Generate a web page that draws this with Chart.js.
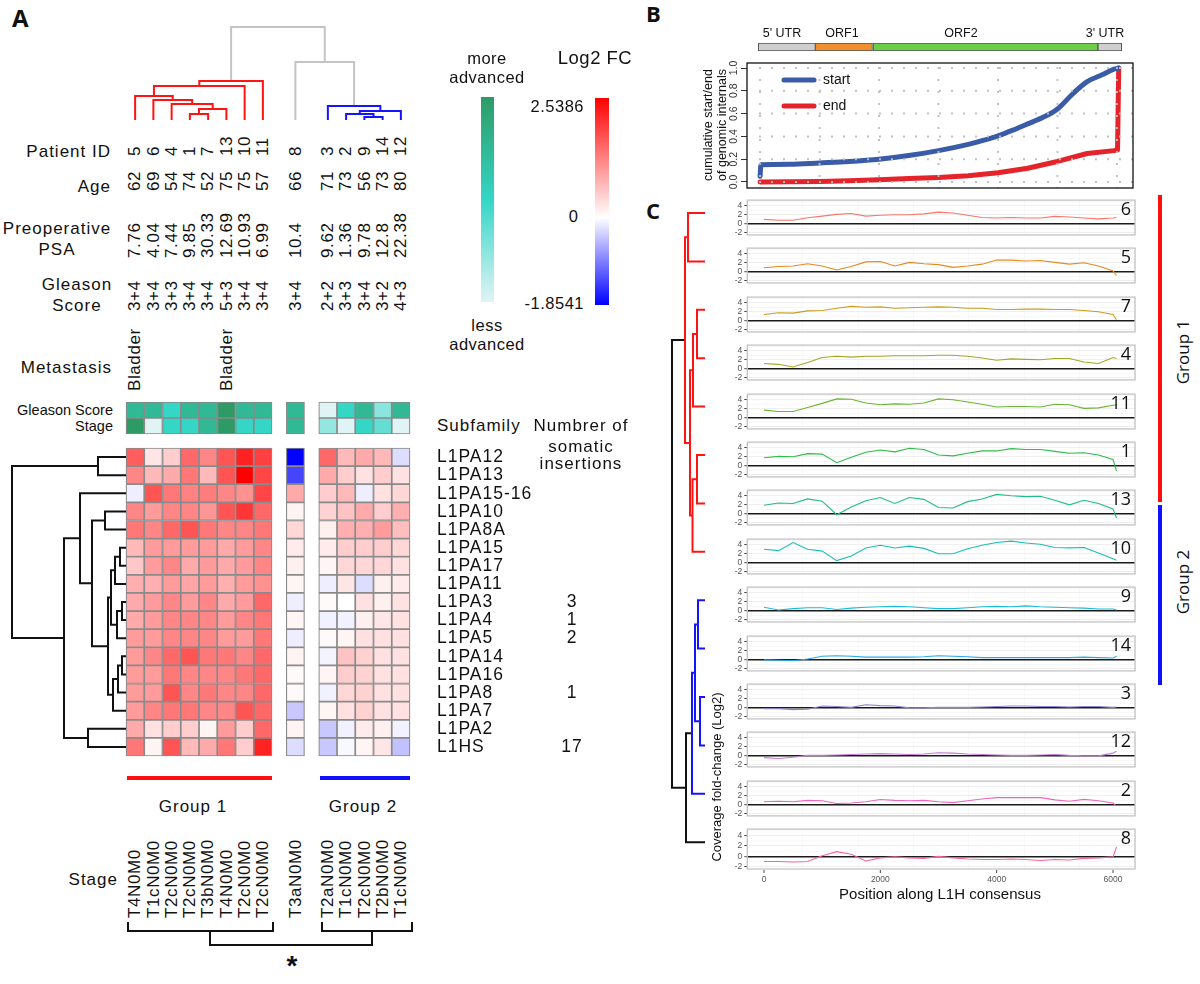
<!DOCTYPE html>
<html>
<head>
<meta charset="utf-8">
<script src="https://cdn.jsdelivr.net/npm/chart.js@4.4.1/dist/chart.umd.min.js"></script>
<style>
  body { margin: 0; background: #fff; width: 1200px; height: 984px; position: relative; overflow: hidden;
         font-family: "Liberation Sans", Arial, sans-serif; color: #111; }
  canvas { position: absolute; }
  .t { position: absolute; white-space: nowrap; }
  .rot { position: absolute; white-space: nowrap; transform-origin: 0 0; transform: rotate(-90deg); }
  .ln { position: absolute; }
</style>
</head>
<body>
<script>
// ---------- Panel A data ----------
const patientIds = ['5', '6', '4', '1', '7', '13', '10', '11', '8', '3', '2', '9', '14', '12'];
const ages = ['62', '69', '54', '74', '52', '75', '75', '57', '66', '71', '73', '56', '73', '80'];
const psa = ['7.76', '4.04', '7.44', '9.85', '30.33', '12.69', '10.93', '6.99', '10.4', '9.62', '1.36', '9.78', '12.8', '22.38'];
const gleason = ['3+4', '3+4', '3+3', '3+4', '3+4', '5+3', '3+4', '3+4', '3+4', '2+2', '3+3', '3+4', '3+2', '4+3'];
const metastasis = ['Bladder', '', '', '', '', 'Bladder', '', '', '', '', '', '', '', ''];
const stages = ['T4N0M0', 'T1cN0M0', 'T2cN0M0', 'T2cN0M0', 'T3bN0M0', 'T4N0M0', 'T2cN0M0', 'T2cN0M0',
                'T3aN0M0', 'T2aN0M0', 'T1cN0M0', 'T2cN0M0', 'T2bN0M0', 'T1cN0M0'];
const stageLevel = { T1c: 0, T2a: 0.22, T2b: 0.36, T2c: 0.5, T3a: 0.75, T3b: 0.75, T4: 1 };

const subfamilies = ['L1PA12', 'L1PA13', 'L1PA15-16', 'L1PA10', 'L1PA8A', 'L1PA15', 'L1PA17', 'L1PA11', 'L1PA3',
                     'L1PA4', 'L1PA5', 'L1PA14', 'L1PA16', 'L1PA8', 'L1PA7', 'L1PA2', 'L1HS'];
const insertions = ['', '', '', '', '', '', '', '', '3', '1', '2', '', '', '1', '', '', '17'];

// log2 fold change, one row per subfamily, columns in patient order above
const log2fc = [
  [1.6, 0.25, 0.5, 1.5, 1.2, 1.7, 2.2, 1.9,   -1.85,  1.5, 0.7, 0.85, 0.7, -0.25],
  [1.2, 0.7, 0.85, 1.35, 0.7, 1.7, 2.54, 1.85, -1.35,  0.85, 0.5, 0.3, 0.5, 0.3],
  [-0.12, 1.7, 1.35, 1.25, 1.3, 1.2, 1.1, 1.85, 0.85,  0.5, 0.7, -0.12, 0.3, 0.4],
  [1.2, 1.0, 1.2, 1.2, 1.05, 1.7, 2.0, 1.5,    0.12,   0.45, 0.6, 0.85, 0.5, 0.8],
  [1.35, 1.2, 1.5, 1.7, 1.35, 1.2, 1.2, 1.35,  0.4,    0.15, 0.8, 0.8, 1.0, 0.65],
  [0.7, 1.0, 1.0, 1.0, 1.0, 0.85, 1.0, 1.2,    0.2,    0.2, 0.5, 0.5, 0.5, 0.4],
  [0.55, 1.0, 1.2, 0.85, 1.0, 0.85, 1.0, 1.2,  0.15,   0.1, 0.4, 0.4, 0.4, 0.3],
  [0.8, 0.8, 1.0, 0.9, 1.0, 0.8, 1.0, 1.1,     0.1,   -0.12, 0.25, -0.25, 0.15, 0.2],
  [0.85, 1.0, 1.2, 1.0, 1.2, 0.85, 1.0, 1.5,  -0.12,   0.05, 0.0, 0.3, 0.15, 0.3],
  [0.85, 1.0, 1.2, 1.2, 1.2, 1.0, 1.2, 1.35,   0.1,   -0.1, -0.1, 0.15, 0.25, 0.3],
  [1.0, 1.0, 1.2, 1.2, 1.2, 1.0, 1.0, 1.35,   -0.12,   0.05, 0.1, 0.3, 0.3, 0.3],
  [1.0, 1.2, 1.5, 1.7, 1.35, 1.35, 1.2, 1.5,   0.12,  -0.08, 0.6, 0.45, 0.3, 0.3],
  [1.0, 1.0, 1.35, 1.2, 1.2, 1.2, 1.35, 1.5,   0.05,   0.1, 0.5, 0.45, 0.3, 0.3],
  [1.0, 1.0, 1.7, 1.2, 1.35, 1.2, 1.2, 1.5,    0.05,  -0.1, 0.4, 0.45, 0.3, 0.3],
  [1.0, 1.2, 1.35, 1.35, 1.2, 1.2, 1.7, 1.5,  -0.4,    0.1, 0.3, 0.45, 0.3, 0.3],
  [0.85, 0.3, 0.5, 0.5, 0.1, 1.0, 0.5, 1.5,    0.12,  -0.4, -0.1, 0.2, 0.15, -0.1],
  [1.35, 0.1, 1.7, 0.7, 0.85, 1.35, 0.5, 2.2, -0.25,  -0.4, -0.05, 0.1, 0.25, -0.45]
];

// dendrograms: [id, childA, childB, height, colour]
const colMerges = [
  ['c0', 3, 4, 6, '#ff1414'], ['c1', 'c0', 5, 11, '#ff1414'], ['c2', 2, 'c1', 16, '#ff1414'],
  ['c3', 1, 'c2', 20, '#ff1414'], ['c4', 0, 'c3', 24, '#ff1414'], ['c5', 'c4', 6, 34, '#ff1414'],
  ['c6', 'c5', 7, 39, '#ff1414'],
  ['c7', 11, 12, 3, '#1414ff'], ['c8', 10, 'c7', 6, '#1414ff'], ['c9', 'c8', 13, 9, '#1414ff'],
  ['c10', 9, 'c9', 14, '#1414ff'],
  ['c11', 8, 'c10', 58, '#c4c4c4'], ['c12', 'c6', 'c11', 93, '#c4c4c4']
];
const rowMerges = [
  ['r0', 0, 1, 28], ['r1', 15, 16, 38], ['r2', 3, 4, 21], ['r3', 8, 9, 4], ['r4', 'r3', 10, 9],
  ['r5', 5, 6, 6], ['r6', 'r5', 7, 11], ['r7', 'r6', 'r4', 15], ['r8', 11, 12, 4], ['r9', 'r8', 13, 8],
  ['r10', 'r9', 14, 13], ['r11', 'r7', 'r10', 18], ['r12', 'r2', 'r11', 34], ['r13', 2, 'r12', 46],
  ['r14', 'r13', 'r1', 62], ['r15', 'r0', 'r14', 114]
];

// ---------- Panel B data ----------
const orfNames = ["5' UTR", 'ORF1', 'ORF2', "3' UTR"];
const orfBounds = [[-30, 930], [930, 1890], [1900, 5680], [5680, 6080]];
const orfColors = ['#cfcfcf', '#ef8f2d', '#6ccd47', '#cfcfcf'];
const startPos = [0, 15, 500, 1000, 1500, 2000, 2500, 3000, 3500, 3750, 4000, 4250, 4500, 4750, 5000, 5250, 5500, 5750, 5950, 6030];
const startCum = [0.05, 0.15, 0.155, 0.167, 0.18, 0.2, 0.232, 0.275, 0.33, 0.365, 0.405, 0.455, 0.51, 0.565, 0.64, 0.77, 0.88, 0.94, 0.99, 1.0];
const endPos = [0, 500, 1000, 1500, 2000, 2500, 3000, 3500, 4000, 4500, 5000, 5500, 5950, 6010, 6030];
const endCum = [0.0, 0.002, 0.005, 0.01, 0.02, 0.03, 0.04, 0.055, 0.08, 0.12, 0.18, 0.25, 0.275, 0.28, 1.0];

// ---------- Panel C data ----------
const covPos = [0, 250, 500, 750, 1000, 1250, 1500, 1750, 2000, 2250, 2500, 2750, 3000, 3250, 3500,
                3750, 4000, 4250, 4500, 4750, 5000, 5250, 5500, 5750, 6000, 6060];
const cov6  = [1.0, 0.8, 0.8, 1.35, 1.7, 2.1, 2.3, 1.7, 1.9, 2.0, 2.0, 2.2, 2.6, 2.4, 1.9, 1.4, 1.3, 1.4, 1.3, 1.3, 1.65, 1.5, 1.3, 1.1, 1.3, 1.4];
const cov5  = [0.9, 1.2, 1.3, 1.8, 1.3, 0.4, 1.2, 2.2, 2.3, 1.3, 2.1, 1.8, 1.6, 1.0, 1.3, 1.7, 2.6, 2.6, 2.4, 2.5, 2.1, 1.7, 2.0, 1.3, 0.2, -0.8];
const cov7  = [1.4, 1.8, 1.7, 2.2, 2.3, 2.8, 3.2, 3.0, 3.1, 2.8, 2.9, 3.0, 3.1, 3.0, 2.8, 2.8, 2.5, 2.5, 2.6, 2.6, 2.5, 2.5, 2.3, 2.0, 1.4, 0.2];
const cov4  = [1.2, 1.0, 0.4, 1.4, 2.5, 2.8, 2.6, 2.8, 2.8, 2.9, 2.9, 2.9, 3.0, 3.0, 2.8, 2.4, 1.9, 2.2, 2.1, 2.0, 2.3, 2.3, 1.5, 1.2, 2.5, 2.3];
const cov11 = [1.7, 1.4, 1.4, 2.3, 3.2, 4.2, 4.1, 3.3, 2.9, 3.1, 3.0, 3.3, 4.2, 4.0, 3.5, 3.0, 2.4, 2.5, 2.5, 2.4, 3.0, 2.9, 2.1, 2.2, 2.8, 2.9];
const cov1  = [1.8, 2.1, 2.0, 2.7, 2.6, 0.7, 1.9, 3.0, 3.5, 3.1, 3.9, 3.6, 2.4, 2.2, 2.8, 3.3, 3.3, 3.8, 3.6, 3.6, 3.2, 2.8, 2.9, 2.4, 1.4, -1.1];
const cov13 = [1.9, 2.4, 2.3, 3.3, 2.8, -0.2, 1.5, 2.9, 3.6, 2.3, 3.6, 3.2, 1.4, 1.3, 2.7, 3.3, 4.3, 4.0, 3.8, 3.9, 3.0, 2.0, 3.0, 2.3, 1.1, -0.9];
const cov10 = [3.0, 2.7, 4.5, 3.0, 2.6, 0.5, 1.5, 3.3, 3.9, 3.3, 3.7, 3.2, 2.0, 2.0, 3.1, 3.9, 4.5, 4.8, 4.4, 4.1, 3.4, 3.3, 3.4, 2.2, 0.9, 0.6];
const cov9  = [0.8, 0.2, 0.5, 0.7, 0.7, 0.3, 0.6, 0.8, 0.9, 1.0, 0.9, 0.7, 0.5, 0.5, 0.7, 0.9, 1.0, 0.9, 1.1, 0.9, 0.8, 0.7, 0.6, 0.4, 0.4, 0.2];
const cov14 = [0.0, -0.1, -0.2, 0.2, 0.8, 0.9, 0.8, 0.6, 0.6, 0.6, 0.6, 0.7, 0.9, 0.8, 0.7, 0.5, 0.5, 0.5, 0.5, 0.5, 0.5, 0.5, 0.6, 0.5, 0.4, 0.8];
const cov3  = [-0.2, -0.2, -0.4, -0.3, 0.4, 0.3, 0.1, 0.7, 0.5, 0.4, 0.0, 0.0, 0.1, 0.1, 0.1, 0.2, 0.3, 0.4, 0.4, 0.3, 0.3, 0.2, 0.3, 0.3, 0.1, 0.2];
const cov12 = [-0.4, -0.6, -0.3, 0.1, 0.1, 0.2, 0.3, 0.4, 0.5, 0.4, 0.3, 0.4, 0.7, 0.6, 0.4, 0.3, 0.2, 0.1, 0.1, 0.2, 0.3, 0.1, 0.0, 0.0, 0.6, 1.0];
const cov2  = [0.7, 0.8, 0.7, 1.0, 0.9, 0.3, 0.4, 0.7, 1.2, 1.0, 0.9, 1.0, 0.7, 0.5, 0.9, 1.3, 1.6, 1.6, 1.6, 1.6, 1.1, 0.8, 1.2, 0.9, 0.4, -0.3];
const cov8  = [-1.0, -1.0, -1.1, -1.0, 0.1, 0.9, 0.4, -0.9, -0.3, -0.1, -0.3, -0.4, 0.0, -0.3, -0.5, -0.6, -0.6, -0.5, -0.6, -0.8, -0.6, -0.7, -0.4, -0.3, -0.1, 1.8];
const covSeries = [cov6, cov5, cov7, cov4, cov11, cov1, cov13, cov10, cov9, cov14, cov3, cov12, cov2, cov8];
const covLabels = ['6', '5', '7', '4', '11', '1', '13', '10', '9', '14', '3', '12', '2', '8'];
const covColors = ['#f8766d', '#e58a1f', '#cc9c1c', '#a3a822', '#6bb532', '#2fbc4c', '#1fbf85', '#19c0b6',
                   '#1dbbdc', '#2aa9ec', '#8c84d4', '#c47ad8', '#ec66bd', '#f466a2'];
const covXTicks = [0, 2000, 4000, 6000];
const panelMerges = [
  ['d0', 0, 1, 17, '#ff1414'], ['d1', 2, 3, 8, '#ff1414'], ['d2', 'd1', 4, 12, '#ff1414'],
  ['d3', 5, 6, 8, '#ff1414'], ['d4', 'd3', 7, 12.5, '#ff1414'], ['d5', 'd2', 'd4', 15, '#ff1414'],
  ['d6', 'd0', 'd5', 20, '#ff1414'],
  ['d7', 8, 9, 7, '#1414ff'], ['d8', 10, 11, 5, '#1414ff'], ['d9', 'd7', 'd8', 10, '#1414ff'],
  ['d10', 'd9', 12, 13, '#1414ff'],
  ['d11', 'd10', 13, 19, '#111'], ['d12', 'd6', 'd11', 33, '#111']
];

// ---------- helpers ----------
Chart.defaults.font.family = '"Liberation Sans", Arial, sans-serif';
const noUi = { legend: { display: false }, tooltip: { enabled: false } };

function canvasAt(left, top, w, h) {
  const c = document.createElement('canvas');
  c.width = w; c.height = h;
  c.style.left = left + 'px'; c.style.top = top + 'px';
  c.style.width = w + 'px'; c.style.height = h + 'px';
  document.body.appendChild(c);
  return c;
}
function text(s, x, y, o = {}) {
  const d = document.createElement('div');
  d.className = 't';
  d.textContent = s;
  const size = o.size || 17;
  const align = o.align || 'left';
  d.style.fontSize = size + 'px';
  d.style.lineHeight = size + 'px';
  d.style.top = (y - size / 2) + 'px';
  if (o.family) d.style.fontFamily = o.family;
  if (o.weight) d.style.fontWeight = o.weight;
  if (o.ls != null) d.style.letterSpacing = o.ls + 'px';
  if (o.color) d.style.color = o.color;
  if (align === 'left') d.style.left = x + 'px';
  else if (align === 'right') { d.style.left = (x - 1000) + 'px'; d.style.width = '1000px'; d.style.textAlign = 'right'; }
  else { d.style.left = (x - 500) + 'px'; d.style.width = '1000px'; d.style.textAlign = 'center'; }
  document.body.appendChild(d);
}
// rotated text reading bottom-to-top; anchored at its bottom (or centred if o.center)
function rtext(s, cx, y, o = {}) {
  const d = document.createElement('div');
  d.className = 'rot';
  d.textContent = s;
  const size = o.size || 17, L = size * 1.15;
  d.style.fontSize = size + 'px';
  d.style.lineHeight = L + 'px';
  d.style.left = (cx - L / 2) + 'px';
  if (o.family) d.style.fontFamily = o.family;
  if (o.ls != null) d.style.letterSpacing = o.ls + 'px';
  if (o.center) { d.style.width = '400px'; d.style.textAlign = 'center'; d.style.top = (y + 200) + 'px'; }
  else d.style.top = y + 'px';
  document.body.appendChild(d);
}
function box(left, top, w, h, css) {
  const d = document.createElement('div');
  d.className = 'ln';
  d.style.cssText += `left:${left}px;top:${top}px;width:${w}px;height:${h}px;` + css;
  document.body.appendChild(d);
}
function buildDendro(merges, leafCoord) {
  const node = {};
  const get = id => typeof id === 'number' ? { p: leafCoord(id), h: 0 } : node[id];
  return merges.map(([id, a, b, h, color]) => {
    const A = get(a), B = get(b);
    node[id] = { p: (A.p + B.p) / 2, h };
    return { color: color || '#111', pts: [[A.p, A.h], [A.p, h], [B.p, h], [B.p, B.h]] };
  });
}
function dendroChart(canvas, merges, leafCoord, sideways, xs, ys, width) {
  const links = buildDendro(merges, leafCoord);
  return new Chart(canvas, {
    type: 'scatter',
    data: { datasets: links.map(l => ({
      data: l.pts.map(([p, h]) => sideways ? { x: h, y: p } : { x: p, y: h }),
      showLine: true, borderColor: l.color, borderWidth: width, pointRadius: 0, clip: false
    })) },
    options: {
      responsive: false, animation: false, layout: { padding: 0 }, plugins: noUi,
      scales: { x: Object.assign({ type: 'linear', display: false }, xs),
                y: Object.assign({ type: 'linear', display: false }, ys) }
    }
  });
}
const FC_MAX = 2.5386, FC_MIN = -1.8541;
function fcColor(v) {
  if (v >= 0) { const g = Math.round(255 * (1 - Math.min(v / FC_MAX, 1))); return `rgb(255,${g},${g})`; }
  const r = Math.round(255 * (1 - Math.min(v / FC_MIN, 1))); return `rgb(${r},${r},255)`;
}
function greenColor(t) {
  const s = [[224, 244, 246], [52, 214, 198], [46, 155, 102]];
  const k = t <= 0.5 ? 0 : 1, f = t <= 0.5 ? t / 0.5 : (t - 0.5) / 0.5;
  const c = s[k].map((v, i) => Math.round(v + (s[k + 1][i] - v) * f));
  return `rgb(${c[0]},${c[1]},${c[2]})`;
}

// ---------- Panel A layout ----------
const GAP = 0.78;
const slotOf = i => i + (i >= 8 ? GAP : 0) + (i >= 9 ? GAP : 0);
const HX0 = 126, HX1 = 410, SLOT_MIN = -0.5, SLOT_MAX = slotOf(13) + 0.5;
const colX = i => HX0 + (slotOf(i) - SLOT_MIN) / (SLOT_MAX - SLOT_MIN) * (HX1 - HX0);
const HY0 = 448, HY1 = 756;
const rowY = r => HY0 + (r + 0.5) * (HY1 - HY0) / subfamilies.length;

text('A', 12, 18, { size: 24, weight: 700, family: '"Open Sans", sans-serif' });

// column dendrogram
dendroChart(canvasAt(HX0, 20, HX1 - HX0, 106), colMerges, slotOf, false,
  { min: SLOT_MIN, max: SLOT_MAX }, { min: -6, max: 100 }, 2);

// rotated column annotations
const LS = 0.6;
patientIds.forEach((s, i) => rtext(s, colX(i), 156, { ls: LS }));
ages.forEach((s, i) => rtext(s, colX(i), 191, { ls: LS }));
psa.forEach((s, i) => rtext(s, colX(i), 258, { ls: LS }));
gleason.forEach((s, i) => rtext(s, colX(i), 311, { ls: LS }));
metastasis.forEach((s, i) => s && rtext(s, colX(i), 391, { ls: LS }));
stages.forEach((s, i) => rtext(s, colX(i), 918, { ls: LS }));

text('Patient ID', 111, 151, { align: 'right', ls: 1 });
text('Age', 111, 186, { align: 'right', ls: 1 });
text('Preoperative', 57, 228, { align: 'center', ls: 1 });
text('PSA', 57, 249, { align: 'center', ls: 1 });
text('Gleason', 77, 284, { align: 'center', ls: 1 });
text('Score', 77, 305, { align: 'center', ls: 1 });
text('Metastasis', 112, 367, { align: 'right', ls: 1 });
text('Gleason Score', 113, 410, { align: 'right', size: 14.5 });
text('Stage', 113, 426, { align: 'right', size: 14.5 });
text('Stage', 118, 879, { align: 'right', ls: 1 });

// annotation rows (Gleason score / stage)
const gleasonLevel = gleason.map(g => (g.split('+').reduce((a, b) => a + Number(b), 0) - 4) / 4);
const stageLvl = stages.map(s => stageLevel[s.replace('N0M0', '')]);
const annoRows = ['Gleason Score', 'Stage'];
new Chart(canvasAt(HX0 - 6, 396, HX1 - HX0 + 12, 44), {
  type: 'bar',
  data: {
    labels: annoRows,
    datasets: patientIds.map((p, i) => ({
      data: annoRows.map(() => [slotOf(i) - 0.5, slotOf(i) + 0.5]),
      backgroundColor: [greenColor(gleasonLevel[i]), greenColor(stageLvl[i])],
      borderColor: '#8a8a8a', borderWidth: 1.2, borderSkipped: false,
      barPercentage: 1, categoryPercentage: 1, grouped: false, clip: false
    }))
  },
  options: {
    indexAxis: 'y', responsive: false, animation: false, plugins: noUi,
    layout: { padding: { left: 6, right: 6, top: 6, bottom: 6 } },
    scales: { x: { type: 'linear', min: SLOT_MIN, max: SLOT_MAX, display: false },
              y: { display: false } }
  }
});

// heatmap
new Chart(canvasAt(HX0 - 6, HY0 - 6, HX1 - HX0 + 12, HY1 - HY0 + 13), {
  type: 'bar',
  data: {
    labels: subfamilies,
    datasets: patientIds.map((p, i) => ({
      data: subfamilies.map(() => [slotOf(i) - 0.5, slotOf(i) + 0.5]),
      backgroundColor: log2fc.map(row => fcColor(row[i])),
      borderColor: '#8a8a8a', borderWidth: 1.2, borderSkipped: false,
      barPercentage: 1, categoryPercentage: 1, grouped: false, clip: false
    }))
  },
  options: {
    indexAxis: 'y', responsive: false, animation: false, plugins: noUi,
    layout: { padding: { left: 6, right: 6, top: 6, bottom: 7 } },
    scales: { x: { type: 'linear', min: SLOT_MIN, max: SLOT_MAX, display: false },
              y: { display: false } }
  }
});

// row dendrogram
dendroChart(canvasAt(0, 440, 130, 325), rowMerges, r => r, true,
  { min: -4, max: 126, reverse: true },
  { min: (440 - HY0) / ((HY1 - HY0) / 17) - 0.5, max: (765 - HY0) / ((HY1 - HY0) / 17) - 0.5, reverse: true }, 2);

// subfamily labels and insertion counts
text('Subfamily', 437, 425, { ls: 1 });
text('Numbrer of', 581, 425, { align: 'center', ls: 1 });
text('somatic', 581, 446, { align: 'center', ls: 1 });
text('insertions', 581, 463, { align: 'center', ls: 1 });
subfamilies.forEach((s, r) => text(s, 437, rowY(r), { size: 17.5, ls: 1 }));
insertions.forEach((s, r) => s && text(s, 572, rowY(r), { align: 'center', size: 17.5, ls: 1 }));

// group bars, labels and brackets
box(127, 776, 145, 4, 'background:#ff1010;');
box(320, 776, 90, 4, 'background:#1010ff;');
text('Group 1', 193, 806, { align: 'center', ls: 1 });
text('Group 2', 363, 806, { align: 'center', ls: 1 });
box(127, 922, 143, 8, 'border:2px solid #111;border-top:none;');
box(321, 922, 88, 8, 'border:2px solid #111;border-top:none;');
box(209, 931, 160, 13, 'border:2px solid #111;border-top:none;');
text('*', 292, 966, { align: 'center', size: 28, weight: 700 });

// colour keys
text('more', 487, 58, { align: 'center', size: 16.5, ls: 0.5 });
text('advanced', 487, 77, { align: 'center', size: 16.5, ls: 0.5 });
text('less', 487, 325, { align: 'center', size: 16.5, ls: 0.5 });
text('advanced', 487, 344, { align: 'center', size: 16.5, ls: 0.5 });
box(481, 97, 13, 205, 'background:linear-gradient(to bottom, rgb(46,155,102), rgb(52,214,198) 50%, rgb(224,244,246));');
text('Log2 FC', 595, 58, { align: 'center', size: 18.5, ls: 0.5 });
box(595, 98, 14, 207, `background:linear-gradient(to bottom, #ff0000, #ffffff ${(FC_MAX / (FC_MAX - FC_MIN) * 100).toFixed(1)}%, #0000ff);`);
text(String(FC_MAX), 584, 106, { align: 'right', size: 16.5, ls: 0.5 });
text('0', 578, 216, { align: 'right', size: 16.5 });
text(String(FC_MIN), 584, 303, { align: 'right', size: 16.5, ls: 0.5 });

// ---------- Panel B ----------
text('B', 646, 13, { size: 22, weight: 700, family: '"Open Sans", sans-serif' });
const B_X = { type: 'linear', min: -220, max: 6270, display: false };
new Chart(canvasAt(700, 40, 440, 14), {
  type: 'bar',
  data: { labels: ['L1'], datasets: orfBounds.map((b, k) => ({
    label: orfNames[k], data: [b], backgroundColor: orfColors[k], borderColor: '#555', borderWidth: 1,
    borderSkipped: false, barPercentage: 1, categoryPercentage: 1, grouped: false
  })) },
  options: { indexAxis: 'y', responsive: false, animation: false, plugins: noUi,
    layout: { padding: { left: 47, right: 7, top: 3, bottom: 3 } },
    scales: { x: B_X, y: { display: false } } }
});
text("5' UTR", 782, 33, { align: 'center', size: 12.5 });
text('ORF1', 842, 33, { align: 'center', size: 12.5 });
text('ORF2', 961, 33, { align: 'center', size: 12.5 });
text("3' UTR", 1105, 33, { align: 'center', size: 12.5 });

const dottedGrid = {
  id: 'dottedGrid',
  afterDatasetsDraw(chart) {
    const { ctx, chartArea: a, scales: { x, y } } = chart;
    ctx.save();
    ctx.strokeStyle = 'rgba(190,190,190,0.95)'; ctx.lineWidth = 2; ctx.setLineDash([2, 10]);
    for (let v = 0; v <= 6000; v += 1000) {
      const px = x.getPixelForValue(v);
      ctx.beginPath(); ctx.moveTo(px, a.top + 4); ctx.lineTo(px, a.bottom); ctx.stroke();
    }
    y.ticks.forEach(t => {
      const py = y.getPixelForValue(t.value);
      ctx.beginPath(); ctx.moveTo(a.left + 12, py); ctx.lineTo(a.right, py); ctx.stroke();
    });
    ctx.restore();
  },
  afterDraw(chart) {
    const { ctx, chartArea: a, scales: { y } } = chart;
    ctx.save();
    ctx.strokeStyle = '#111'; ctx.lineWidth = 1.3;
    ctx.strokeRect(a.left, a.top, a.right - a.left, a.bottom - a.top);
    ctx.font = '10.5px "Liberation Sans", Arial'; ctx.fillStyle = '#333';
    ctx.textAlign = 'center'; ctx.textBaseline = 'middle';
    y.ticks.forEach(t => {
      ctx.save(); ctx.translate(a.left - 13, y.getPixelForValue(t.value)); ctx.rotate(-Math.PI / 2);
      ctx.fillText(t.value.toFixed(1), 0, 0); ctx.restore();
    });
    // legend inside the box
    ctx.font = '14px "Liberation Sans", Arial'; ctx.textAlign = 'left'; ctx.fillStyle = '#111';
    chart.data.datasets.forEach((ds, k) => {
      const ly = a.top + 17 + k * 26;
      ctx.strokeStyle = ds.borderColor; ctx.lineWidth = 5; ctx.lineCap = 'round';
      ctx.beginPath(); ctx.moveTo(a.left + 37, ly); ctx.lineTo(a.left + 67, ly); ctx.stroke();
      ctx.fillText(ds.label, a.left + 76, ly);
    });
    ctx.restore();
  }
};
new Chart(canvasAt(700, 55, 440, 140), {
  type: 'line',
  data: { datasets: [
    { label: 'start', data: startPos.map((x, k) => ({ x, y: startCum[k] })), borderColor: '#3a5ba8', borderWidth: 5,
      pointRadius: 0, borderCapStyle: 'round', borderJoinStyle: 'round', cubicInterpolationMode: 'monotone' },
    { label: 'end', data: endPos.map((x, k) => ({ x, y: endCum[k] })), borderColor: '#e4232a', borderWidth: 5,
      pointRadius: 0, borderCapStyle: 'round', borderJoinStyle: 'round' }
  ] },
  options: { responsive: false, animation: false, plugins: noUi,
    layout: { padding: { left: 0, right: 7, top: 8, bottom: 7 } },
    scales: {
      x: B_X,
      y: { min: -0.053, max: 1.044, ticks: { display: false, stepSize: 0.2, includeBounds: false, autoSkip: false },
           grid: { drawOnChartArea: false, tickLength: 6, color: '#333' }, border: { display: false },
           afterFit: s => { s.width = 47; } }
    } },
  plugins: [dottedGrid]
});
rtext('cumulative start/end', 708, 125, { size: 12.5, center: true });
rtext('of genomic internals', 722, 125, { size: 12.5, center: true });

// ---------- Panel C ----------
text('C', 646, 210, { size: 22, weight: 700, family: '"Open Sans", sans-serif' });
const C_TOP = 195, C_PITCH = 48.4, C_BOX = 45;
const panelFrame = {
  id: 'panelFrame',
  afterDraw(chart) {
    const { ctx, chartArea: a, scales: { x } } = chart;
    ctx.save(); ctx.strokeStyle = '#c3c3c3'; ctx.lineWidth = 1.3;
    ctx.strokeRect(a.left, a.top, a.right - a.left, a.bottom - a.top);
    if (chart.options.plugins.panelFrame && chart.options.plugins.panelFrame.xLabels) {
      ctx.font = '8.5px "Liberation Sans", Arial'; ctx.fillStyle = '#555';
      ctx.textAlign = 'center'; ctx.textBaseline = 'top';
      ctx.strokeStyle = '#444'; ctx.lineWidth = 1;
      covXTicks.forEach(v => {
        const px = x.getPixelForValue(v);
        ctx.beginPath(); ctx.moveTo(px, a.bottom + 1); ctx.lineTo(px, a.bottom + 4); ctx.stroke();
        ctx.fillText(String(v), px, a.bottom + 6);
      });
    }
    ctx.restore();
  }
};
covSeries.forEach((vals, i) => {
  const top = C_TOP + i * C_PITCH;
  const last = i === covSeries.length - 1;
  new Chart(canvasAt(700, top - 2, 440, C_BOX + 4 + (last ? 16 : 0)), {
    type: 'line',
    data: { datasets: [{ data: covPos.map((x, k) => ({ x, y: vals[k] })), borderColor: covColors[i],
                         borderWidth: 1.1, pointRadius: 0 }] },
    options: { responsive: false, animation: false,
      plugins: Object.assign({ panelFrame: { xLabels: last } }, noUi),
      layout: { padding: { left: 0, right: 5, top: 2, bottom: 2 + (last ? 16 : 0) } },
      scales: {
        x: { type: 'linear', min: -287, max: 6378,
             ticks: { stepSize: 1000, includeBounds: false, display: false, autoSkip: false },
             grid: { color: c => (c.tick && c.tick.value % 2000 === 0 ? '#ebebeb' : '#f6f6f6'), lineWidth: 0.8, drawTicks: false },
             border: { display: false },
             afterFit: s => { s.height = 0; } },
        y: { min: -2.44, max: 5.25,
             ticks: { stepSize: 1, includeBounds: false, autoSkip: false, font: { size: 8.5 }, color: '#555', padding: 2,
                      callback: v => (v % 2 === 0 ? String(v) : '') },
             grid: { color: c => (c.tick && c.tick.value === 0 ? '#1a1a1a' : (c.tick && c.tick.value % 2 === 0 ? '#ebebeb' : '#f6f6f6')),
                     lineWidth: c => (c.tick && c.tick.value === 0 ? 1.4 : 0.8),
                     tickLength: 3, tickWidth: 1,
                     tickColor: c => (c.tick && c.tick.value % 2 === 0 ? '#444' : 'rgba(0,0,0,0)') },
             border: { display: false },
             afterFit: s => { s.width = 47.3; } }
      } },
    plugins: [panelFrame]
  });
  text(covLabels[i], 1131, top + 13, { align: 'right', size: 18, family: '"Open Sans", sans-serif' });
});
text('Position along L1H consensus', 940, 893, { align: 'center', size: 15 });
rtext('Coverage fold-change (Log2)', 717, 777, { size: 13, center: true });

// panel C dendrogram
dendroChart(canvasAt(660, 190, 50, 680), panelMerges, i => i, true,
  { min: -5, max: 45, reverse: true },
  { min: (190 - 213) / C_PITCH, max: (870 - 213) / C_PITCH, reverse: true }, 2);

// group bars on the right
box(1158, 195, 4, 307, 'background:#ff1010;');
box(1158, 505, 4, 180, 'background:#1010ff;');
rtext('Group 1', 1183, 352, { size: 17, family: '"Open Sans", sans-serif', center: true });
rtext('Group 2', 1183, 582, { size: 17, family: '"Open Sans", sans-serif', center: true });
</script>
</body>
</html>
